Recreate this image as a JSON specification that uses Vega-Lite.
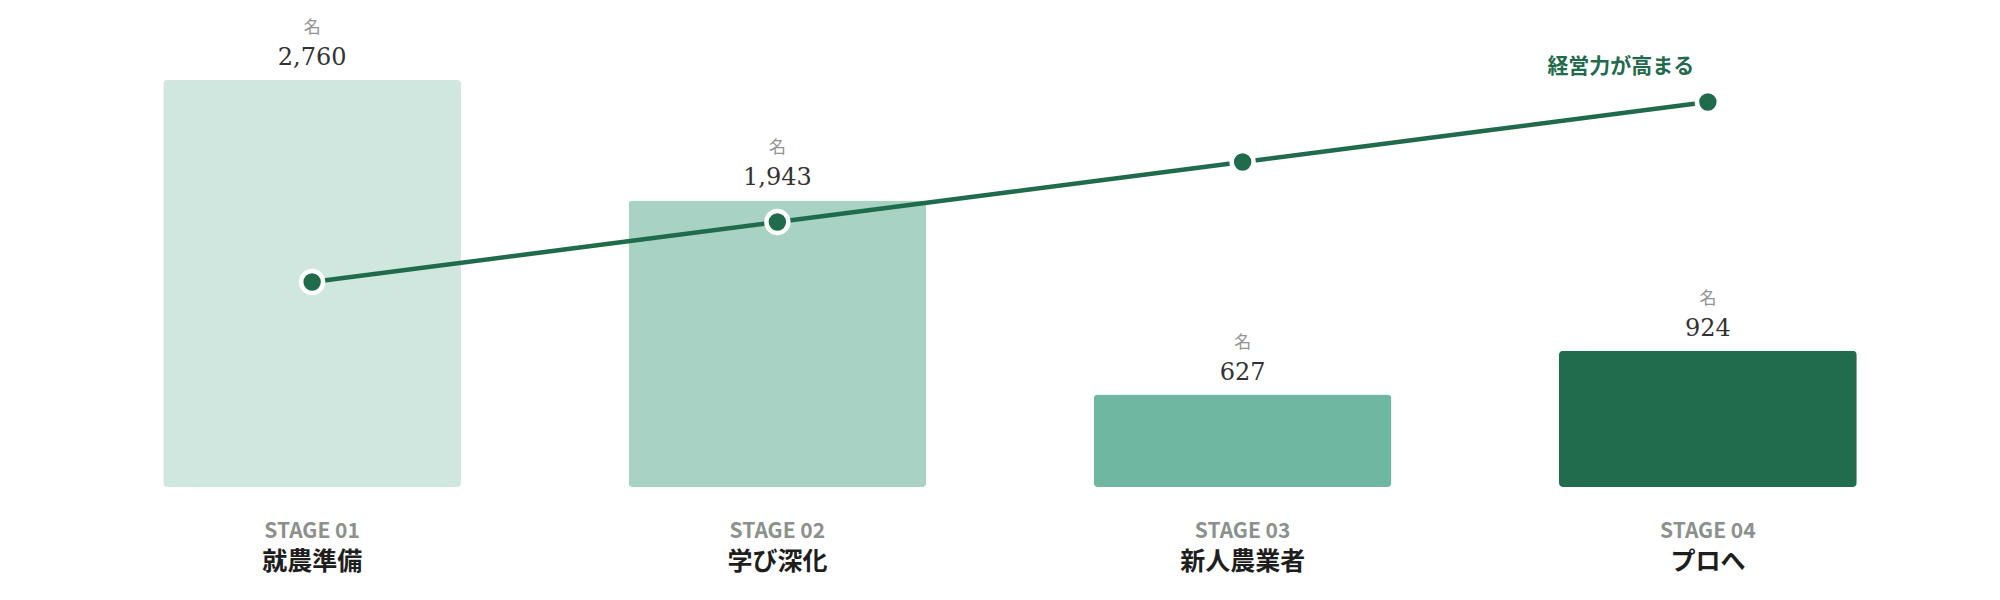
{
  "$schema": "https://vega.github.io/schema/vega-lite/v6.json",
  "width": 2000,
  "height": 600,
  "autosize": {"type": "fit", "contains": "padding"},
  "padding": 0,
  "background": "white",
  "config": {"view": {"stroke": null}, "font": "Noto Sans CJK JP"},
  "data": {
    "values": [
      {"stage": "STAGE 01", "name": "就農準備", "count": 2760, "level": 1, "note": ""},
      {"stage": "STAGE 02", "name": "学び深化", "count": 1943, "level": 2, "note": ""},
      {"stage": "STAGE 03", "name": "新人農業者", "count": 627, "level": 3, "note": ""},
      {"stage": "STAGE 04", "name": "プロへ", "count": 924, "level": 4, "note": "経営力が高まる"}
    ]
  },
  "encoding": {
    "x": {
      "field": "stage",
      "type": "nominal",
      "sort": null,
      "axis": null,
      "scale": {"type": "band", "range": [79.5, 1940.5], "paddingInner": 0.36, "paddingOuter": 0.18}
    }
  },
  "layer": [
    {
      "mark": {"type": "bar", "cornerRadius": 4},
      "encoding": {
        "y": {"field": "count", "type": "quantitative", "axis": null,
              "scale": {"domain": [0, 2760], "range": [487, 80], "nice": false}},
        "color": {
          "field": "stage", "type": "nominal", "legend": null,
          "scale": {"domain": ["STAGE 01", "STAGE 02", "STAGE 03", "STAGE 04"],
                    "range": ["#cfe7de", "#a8d3c4", "#6fb7a0", "#216c4c"]}
        }
      }
    },
    {
      "mark": {"type": "text", "baseline": "alphabetic", "dy": -47, "fontSize": 17, "color": "#939393"},
      "encoding": {
        "y": {"field": "count", "type": "quantitative", "axis": null,
              "scale": {"domain": [0, 2760], "range": [487, 80], "nice": false}},
        "text": {"value": "名"}
      }
    },
    {
      "mark": {"type": "text", "baseline": "alphabetic", "dy": -15, "fontSize": 24, "font": "DejaVu Serif", "color": "#333333"},
      "encoding": {
        "y": {"field": "count", "type": "quantitative", "axis": null,
              "scale": {"domain": [0, 2760], "range": [487, 80], "nice": false}},
        "text": {"field": "count", "type": "quantitative", "format": ","}
      }
    },
    {
      "mark": {"type": "text", "baseline": "middle", "dy": 45, "fontSize": 21, "fontWeight": "bold", "color": "#8c918c"},
      "encoding": {
        "y": {"datum": 0, "type": "quantitative", "axis": null,
              "scale": {"domain": [0, 2760], "range": [487, 80], "nice": false}},
        "text": {"field": "stage"}
      }
    },
    {
      "mark": {"type": "text", "baseline": "middle", "dy": 75, "fontSize": 25, "fontWeight": "bold", "color": "#1e1e1e"},
      "encoding": {
        "y": {"datum": 0, "type": "quantitative", "axis": null,
              "scale": {"domain": [0, 2760], "range": [487, 80], "nice": false}},
        "text": {"field": "name"}
      }
    },
    {
      "mark": {"type": "line", "interpolate": "monotone", "color": "#1f6b4b", "strokeWidth": 4.5},
      "encoding": {
        "y": {"field": "level", "type": "quantitative", "axis": null,
              "scale": {"domain": [1, 4], "range": [282, 102], "nice": false, "zero": false}}
      }
    },
    {
      "mark": {"type": "point", "shape": "circle", "filled": true, "size": 480, "color": "#1f6b4b", "stroke": "white", "strokeWidth": 4.5, "opacity": 1},
      "encoding": {
        "y": {"field": "level", "type": "quantitative", "axis": null,
              "scale": {"domain": [1, 4], "range": [282, 102], "nice": false, "zero": false}}
      }
    },
    {
      "transform": [{"filter": "datum.note != ''"}],
      "mark": {"type": "text", "align": "center", "baseline": "middle", "dx": -87, "dy": -35, "fontSize": 21, "fontWeight": "bold", "color": "#1f6b4b"},
      "encoding": {
        "y": {"field": "level", "type": "quantitative", "axis": null,
              "scale": {"domain": [1, 4], "range": [282, 102], "nice": false, "zero": false}},
        "text": {"field": "note"}
      }
    }
  ],
  "resolve": {"scale": {"y": "independent"}}
}
